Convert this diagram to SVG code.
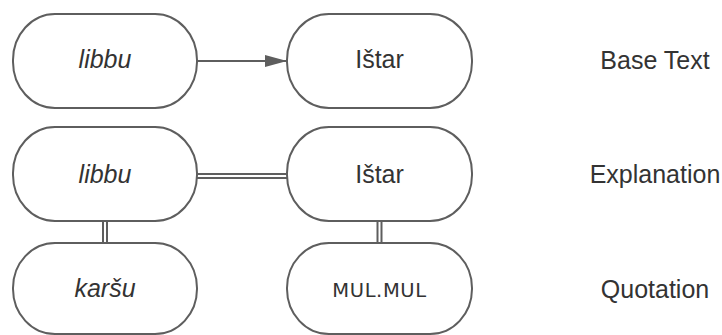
<svg xmlns="http://www.w3.org/2000/svg" width="722" height="335" viewBox="0 0 722 335">
<style>
.n{fill:#fff;stroke:#5e5e5e;stroke-width:2}
.t{font-family:"Liberation Sans",Arial,sans-serif;font-size:25px;fill:#333;text-anchor:middle}
.i{font-style:italic}
.m{font-family:"DejaVu Sans",sans-serif;font-size:19.5px;letter-spacing:0.6px;fill:#333;text-anchor:middle}
.c{fill:none;stroke:#5e5e5e;stroke-width:2}
.d1{fill:none;stroke:#5e5e5e;stroke-width:6}
.d2{fill:none;stroke:#fff;stroke-width:2}
</style>
<defs>
<marker id="ah" viewBox="0 0 22 12" refX="22" refY="6" markerWidth="22" markerHeight="12" markerUnits="userSpaceOnUse" orient="auto">
<path d="M0,0 L22,6 L0,12 Z" fill="#5e5e5e"/>
</marker>
</defs>
<g id="connectors">
<line class="c" x1="197" y1="61" x2="287" y2="61" marker-end="url(#ah)"/>
<line class="d1" x1="197" y1="176" x2="287" y2="176"/>
<line class="d2" x1="197" y1="176" x2="287" y2="176"/>
<line class="d1" x1="105" y1="221" x2="105" y2="244"/>
<line class="d2" x1="105" y1="221" x2="105" y2="244"/>
<line class="d1" x1="379.5" y1="221" x2="379.5" y2="244"/>
<line class="d2" x1="379.5" y1="221" x2="379.5" y2="244"/>
</g>
<g id="base-libbu"><rect class="n" x="13" y="14" width="184" height="94" rx="42" ry="46"/><text class="t i" x="105" y="68">libbu</text></g>
<g id="base-istar"><rect class="n" x="287" y="14" width="185" height="94" rx="42" ry="46"/><text class="t" x="379.5" y="68">Ištar</text></g>
<g id="expl-libbu"><rect class="n" x="13" y="127" width="184" height="94" rx="42" ry="46"/><text class="t i" x="105" y="183">libbu</text></g>
<g id="expl-istar"><rect class="n" x="287" y="127" width="185" height="94" rx="42" ry="46"/><text class="t" x="379.5" y="183">Ištar</text></g>
<g id="quot-karsu"><rect class="n" x="13" y="243" width="184" height="91" rx="42" ry="45"/><text class="t i" x="105" y="297">karšu</text></g>
<g id="quot-mulmul"><rect class="n" x="287" y="243" width="185" height="91" rx="42" ry="45"/><text class="m" x="379.5" y="297">MUL.MUL</text></g>
<g id="labels">
<text class="t" x="655" y="69">Base Text</text>
<text class="t" x="655" y="183">Explanation</text>
<text class="t" x="655" y="298">Quotation</text>
</g>
</svg>
